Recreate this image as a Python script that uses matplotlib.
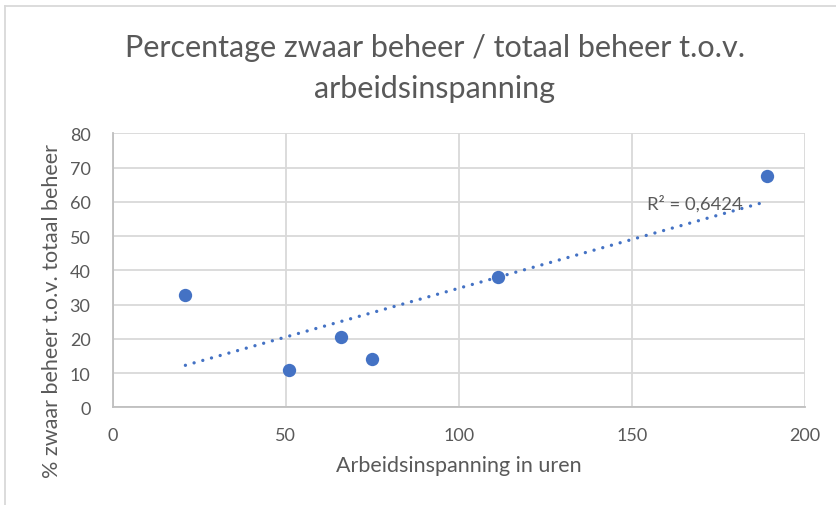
import numpy as np
import matplotlib
matplotlib.use("Agg")
import matplotlib.pyplot as plt
from matplotlib.lines import Line2D

uren = [21.0, 50.8, 66.0, 74.8, 111.4, 189.0]
pct_zwaar = [32.9, 11.0, 20.4, 14.0, 38.1, 67.4]
x_ticks = [0, 50, 100, 150, 200]
y_ticks = [0, 10, 20, 30, 40, 50, 60, 70, 80]
r2_label = "R² = 0,6424"

title = "Percentage zwaar beheer / totaal beheer t.o.v.\narbeidsinspanning"
xlabel = "Arbeidsinspanning in uren"
ylabel = "% zwaar beheer t.o.v. totaal beheer"

plt.rcParams['font.family'] = ['Lato', 'DejaVu Sans']
gray_text = '#595959'
blue = '#4472C4'

W, H = 836, 506
fig = plt.figure(figsize=(W / 100, H / 100), dpi=100)
L, R, T, B = 112.7, 805.0, 134.3, 408.3
ax = fig.add_axes([L / W, 1 - B / H, (R - L) / W, (B - T) / H])

ax.set_xlim(0, 200)
ax.set_ylim(0, 80)
ax.set_xticks(x_ticks)
ax.set_yticks(y_ticks)
ax.grid(True, color='#d9d9d9', linewidth=1.3)
ax.set_axisbelow(True)
for s in ['top', 'right']:
    ax.spines[s].set_visible(False)
for s in ['left', 'bottom']:
    ax.spines[s].set_color('#bfbfbf')
    ax.spines[s].set_linewidth(1.3)
ax.tick_params(length=0, colors=gray_text, labelsize=13)
ax.tick_params(axis='x', pad=14)
ax.tick_params(axis='y', pad=16)

# linear trendline
x = np.array(uren)
y = np.array(pct_zwaar)
slope, intercept = np.polyfit(x, y, 1)
xt = np.array([x.min(), x.max()])
ax.plot(xt, slope * xt + intercept, color=blue, linewidth=2.4,
        linestyle=(0, (0.01, 2.7)), dash_capstyle='round', zorder=2)

ax.scatter(uren, pct_zwaar, s=92, color=blue, zorder=3, linewidths=0)

ax.text(154.4, 57.9, r2_label, color=gray_text, fontsize=13.3, va='baseline', ha='left')

ax.set_xlabel(xlabel, color=gray_text, fontsize=15.5)
ax.xaxis.set_label_coords(0.5, (B - 456) / (B - T))
ax.xaxis.label.set_va('top')
ax.set_ylabel(ylabel, color=gray_text, fontsize=15.5)
ax.yaxis.set_label_coords((62 - L) / (R - L), (B - 311) / (B - T))

fig.text(0.52, 1 - 34 / H, title, ha='center', va='top', fontsize=22, color=gray_text,
         linespacing=1.55)

# chart border (left and top edges visible)
fig.add_artist(Line2D([5 / W, 5 / W], [0, 1 - 7 / H], transform=fig.transFigure,
                      color='#d9d9d9', linewidth=1.3))
fig.add_artist(Line2D([5 / W, 1], [1 - 7 / H, 1 - 7 / H], transform=fig.transFigure,
                      color='#d9d9d9', linewidth=1.3))

fig.savefig('out.png', dpi=100)
